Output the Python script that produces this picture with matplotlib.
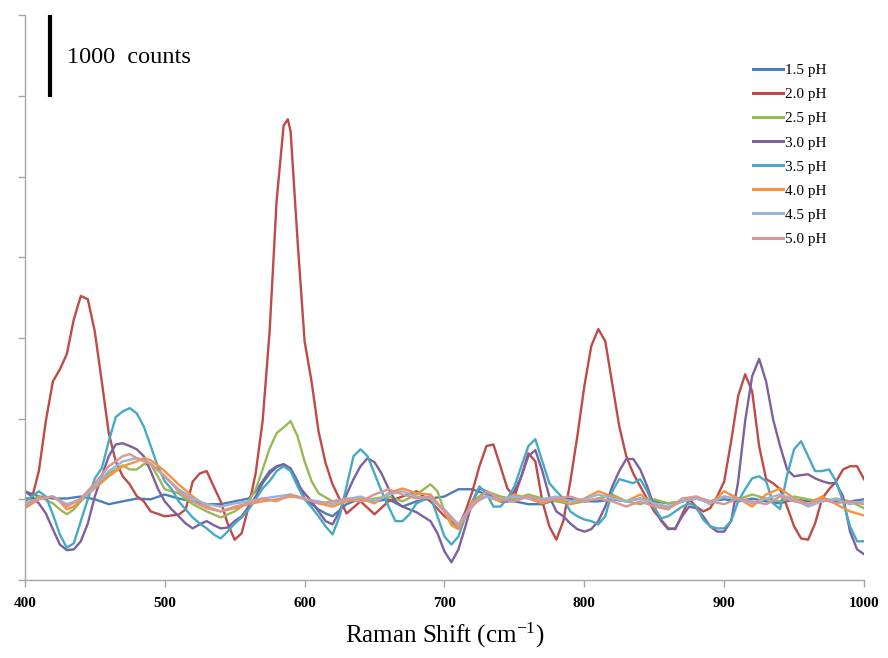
import matplotlib
matplotlib.use('Agg')
from matplotlib import pyplot as plt

# Raman spectra, counts relative to baseline
x_15 = [400, 410, 420, 430, 440, 450, 460, 470, 480, 490, 500, 510, 520, 530, 540, 550, 560,
        565, 570, 575, 580, 585, 590, 595, 600, 605, 610, 615, 620, 630, 640, 650, 660, 670,
        680, 690, 700, 710, 720, 730, 740, 750, 760, 770, 780, 790, 800, 810, 820, 830, 840,
        850, 860, 870, 880, 890, 900, 910, 920, 930, 940, 950, 960, 970, 980, 990, 1000]
y_15 = [100, 35, 10, 10, 35, 0, -60, -25, 10, 0, 60, 10, -25, -60, -60, -25, 10,
        100, 225, 350, 410, 435, 385, 225, 10, -60, -125, -175, -210, -60, 10, -25, 0, -90,
        -25, 10, 35, 125, 125, 60, -25, -25, -60, -60, 0, 10, -25, -25, 0, -25, 10,
        -25, -50, -25, 10, -25, 0, -25, 10, -25, -50, 0, -25, 10, -25, -25, 0]

x_20 = [400, 405, 410, 415, 420, 425, 430, 435, 440, 445, 450, 455, 460, 465, 470, 475, 480,
        485, 490, 500, 510, 515, 520, 525, 530, 535, 540, 545, 550, 555, 560, 565, 570, 575,
        580, 585, 588, 590, 595, 600, 605, 610, 615, 620, 630, 640, 650, 660, 670, 680, 690,
        700, 710, 715, 720, 725, 730, 735, 740, 745, 750, 755, 760, 765, 770, 775, 780, 785,
        790, 795, 800, 805, 810, 815, 820, 825, 830, 835, 840, 850, 860, 865, 870, 875, 880,
        885, 890, 895, 900, 905, 910, 915, 920, 925, 930, 935, 940, 945, 950, 955, 960, 965,
        970, 975, 980, 985, 990, 995, 1000]
y_20 = [10, 10, 350, 970, 1460, 1610, 1800, 2230, 2520, 2480, 2080, 1460, 820, 470, 285, 185, 40,
        -25, -150, -210, -190, -125, 220, 320, 350, 160, -25, -300, -500, -420, -90, 320, 970, 2080,
        3700, 4630, 4710, 4560, 3200, 1960, 1460, 840, 450, 185, -175, -25, -185, -25, 35, 100, -25,
        -210, -335, -150, 100, 410, 660, 680, 410, 135, 35, 285, 570, 470, -25, -335, -500, -270,
        220, 780, 1400, 1900, 2110, 1960, 1430, 905, 535, 320, 160, -150, -360, -370, -185, 0, -90,
        -150, -110, 35, 220, 720, 1280, 1550, 1340, 660, 250, 200, 125, -90, -335, -485, -500, -300,
        10, 125, 220, 370, 410, 410, 250]

x_25 = [400, 410, 420, 425, 430, 435, 440, 450, 460, 470, 475, 480, 485, 490, 495, 500, 510,
        520, 530, 540, 550, 560, 565, 570, 575, 580, 585, 590, 595, 600, 605, 610, 620, 630,
        640, 650, 660, 670, 680, 690, 695, 700, 705, 710, 715, 720, 730, 740, 750, 760, 770,
        780, 790, 800, 810, 820, 830, 840, 850, 860, 870, 880, 890, 900, 910, 920, 930, 940,
        950, 960, 970, 980, 990, 1000]
y_25 = [-60, 35, -50, -125, -185, -125, -25, 160, 320, 420, 370, 370, 435, 435, 285, 125, 75,
        -60, -150, -225, -150, -25, 125, 370, 630, 820, 890, 970, 780, 470, 225, 75, -25, 0,
        -25, 10, 35, -25, 60, 185, 100, -150, -300, -360, -210, -25, 100, 35, 0, 60, 10,
        -25, -60, -25, 10, 60, -25, -60, 0, -50, -25, 10, -25, 35, 0, 60, 10, -25,
        35, 0, -25, 10, -25, -110]

x_30 = [400, 405, 410, 415, 420, 425, 430, 435, 440, 445, 450, 455, 460, 465, 470, 475, 480,
        485, 490, 495, 500, 505, 510, 515, 520, 525, 530, 535, 540, 545, 550, 555, 560, 565,
        570, 575, 580, 585, 590, 595, 600, 605, 610, 615, 620, 625, 630, 635, 640, 645, 650,
        655, 660, 665, 670, 680, 690, 695, 700, 705, 710, 715, 720, 725, 730, 740, 745, 750,
        755, 760, 765, 770, 775, 780, 785, 790, 795, 800, 805, 810, 815, 820, 825, 830, 835,
        840, 845, 850, 855, 860, 865, 870, 875, 880, 885, 890, 895, 900, 905, 910, 915, 920,
        925, 930, 935, 940, 945, 950, 955, 960, 965, 970, 975, 980, 985, 990, 995, 1000]
y_30 = [100, 35, -50, -175, -370, -560, -630, -620, -520, -300, 35, 285, 535, 680, 695, 660, 620,
        535, 350, 135, -25, -125, -210, -300, -360, -310, -270, -320, -360, -350, -270, -210, -90, 35,
        200, 320, 400, 435, 370, 185, 75, -25, -150, -270, -310, -150, 60, 250, 410, 510, 460,
        320, 135, -25, -90, -160, -270, -420, -645, -780, -620, -335, -25, 135, 100, -25, -25, 100,
        285, 535, 610, 350, 35, -150, -210, -300, -370, -400, -370, -270, -90, 160, 350, 500, 500,
        370, 160, -90, -270, -370, -360, -210, -90, -110, -210, -335, -400, -400, -270, 220, 970, 1525,
        1740, 1460, 990, 660, 370, 285, 300, 310, 260, 225, 200, 200, 35, -400, -620, -680]

x_35 = [400, 405, 410, 415, 420, 425, 430, 435, 440, 445, 450, 455, 460, 465, 470, 475, 480,
        485, 490, 495, 500, 505, 510, 515, 520, 525, 530, 535, 540, 545, 550, 555, 560, 565,
        570, 575, 580, 585, 590, 595, 600, 605, 610, 615, 620, 625, 630, 635, 640, 645, 650,
        655, 660, 665, 670, 675, 680, 690, 695, 700, 705, 710, 715, 720, 725, 730, 735, 740,
        745, 750, 755, 760, 765, 770, 775, 780, 785, 790, 795, 800, 805, 810, 815, 820, 825,
        830, 835, 840, 845, 850, 855, 860, 865, 870, 875, 880, 885, 890, 895, 900, 905, 910,
        915, 920, 925, 930, 935, 940, 945, 950, 955, 960, 965, 970, 975, 980, 985, 990, 995,
        1000]
y_35 = [-25, 35, 100, 35, -185, -435, -600, -545, -270, 0, 260, 385, 720, 1020, 1090, 1130, 1065,
        905, 660, 410, 225, 125, -25, -125, -225, -300, -360, -435, -485, -400, -300, -225, -125, 0,
        135, 225, 350, 410, 350, 160, 0, -100, -210, -335, -435, -210, 160, 535, 620, 535, 320,
        100, -90, -270, -270, -185, -50, 35, -210, -460, -560, -460, -210, -25, 160, 75, -90, -90,
        10, 160, 410, 660, 745, 470, 200, 100, 10, -150, -210, -250, -270, -310, -210, 100, 250,
        225, 200, 250, 100, -110, -235, -210, -150, -90, -50, -90, -250, -335, -360, -360, -270, -25,
        125, 260, 285, 225, -50, -120, 300, 620, 720, 535, 350, 350, 370, 225, -25, -335, -520,
        -520]

x_40 = [400, 410, 420, 425, 430, 435, 440, 450, 460, 470, 480, 485, 490, 500, 510, 520, 530,
        540, 550, 560, 570, 580, 590, 600, 610, 620, 630, 640, 650, 660, 670, 680, 690, 700,
        705, 710, 715, 720, 730, 740, 750, 760, 770, 780, 790, 800, 810, 820, 830, 840, 850,
        860, 870, 880, 890, 900, 910, 920, 930, 940, 950, 960, 970, 980, 990, 1000]
y_40 = [-110, 0, 35, -25, -125, -90, 0, 135, 285, 410, 470, 510, 485, 350, 185, 35, -90,
        -150, -110, -60, -25, 0, 35, 10, -50, -90, -25, 10, -50, 75, 135, 75, 60, -150,
        -320, -370, -210, -25, 35, -25, 60, 10, -50, 10, -60, 10, 100, 35, -25, 60, -60,
        -110, -25, 35, -60, 100, 10, -90, 60, 135, 10, -60, 35, -60, -150, -200]

x_45 = [400, 410, 420, 430, 440, 450, 460, 470, 480, 490, 500, 510, 520, 530, 540, 550, 560,
        570, 580, 590, 600, 610, 620, 630, 640, 650, 660, 670, 680, 690, 700, 710, 720, 730,
        740, 750, 760, 770, 780, 790, 800, 810, 820, 830, 840, 850, 860, 870, 880, 890, 900,
        910, 920, 930, 940, 950, 960, 970, 980, 990, 1000]
y_45 = [-60, 10, 35, -60, 0, 160, 350, 470, 510, 445, 285, 125, 10, -60, -90, -50, -25,
        10, 35, 60, 0, -25, -60, 0, 35, -25, 60, 100, 35, 10, -125, -310, -60, 35,
        0, 35, 10, 0, 35, -25, 0, 60, 10, -25, 10, -50, -90, -25, 10, -50, 35,
        0, -50, 10, 60, 0, -90, -25, 0, -60, -25]

x_50 = [400, 410, 420, 430, 440, 450, 460, 470, 475, 480, 490, 500, 510, 520, 530, 540, 550,
        560, 570, 580, 590, 600, 610, 620, 630, 640, 650, 660, 670, 680, 690, 700, 710, 720,
        730, 740, 750, 760, 770, 780, 790, 800, 810, 820, 830, 840, 850, 860, 870, 880, 890,
        900, 910, 920, 930, 940, 950, 960, 970, 980, 990, 1000]
y_50 = [-90, 10, 35, -90, 10, 200, 410, 535, 560, 510, 435, 285, 100, -25, -110, -150, -90,
        -50, 10, -25, 60, 10, -50, -25, 10, -25, 60, 125, 60, 10, 35, -150, -335, -90,
        100, 0, -25, 35, -25, 10, 35, -25, 10, -25, -90, -25, -90, -125, 10, 35, -25,
        -60, 10, -25, -60, 35, -25, -60, 0, -50, -25, -60]

series = [
    ('1.5 pH', x_15, y_15, '#4A7EBB'),
    ('2.0 pH', x_20, y_20, '#BE4B48'),
    ('2.5 pH', x_25, y_25, '#98B954'),
    ('3.0 pH', x_30, y_30, '#7D60A0'),
    ('3.5 pH', x_35, y_35, '#46AAC5'),
    ('4.0 pH', x_40, y_40, '#F69240'),
    ('4.5 pH', x_45, y_45, '#98B4D8'),
    ('5.0 pH', x_50, y_50, '#DA9694'),
]

serif = 'Liberation Serif'
plt.rcParams['mathtext.fontset'] = 'custom'
plt.rcParams['mathtext.rm'] = serif
plt.rcParams['mathtext.it'] = serif

fig = plt.figure(figsize=(8.88, 6.58), dpi=100)
ax = fig.add_axes([0.028, 0.1185, 0.945, 0.8585])

for label, xs, ys, col in series:
    ax.plot(xs, ys, color=col, lw=1.7, label=label, solid_joinstyle='round')

ax.set_xlim(400, 1000)
ax.set_ylim(-1000, 6000)
ax.set_xticks(range(400, 1001, 100))
ax.set_yticks(range(-1000, 6001, 1000))
ax.set_yticklabels([])
ax.tick_params(axis='both', direction='out', length=5, color='#A6A6A6', width=1)
ax.tick_params(axis='x', labelsize=11, pad=7)
for t in ax.get_xticklabels():
    t.set_fontfamily(serif)
    t.set_fontweight('bold')

for s in ['top', 'right']:
    ax.spines[s].set_visible(False)
for s in ['left', 'bottom']:
    ax.spines[s].set_color('#A6A6A6')
    ax.spines[s].set_linewidth(1)

ax.set_xlabel('Raman Shift (cm$^{\\mathrm{-1}}$)', fontfamily=serif, fontsize=18, labelpad=8)

# scale bar
ax.plot([418, 418], [4980, 6000], color='black', lw=3, solid_capstyle='butt')
ax.text(430, 5480, '1000  counts', fontfamily=serif, fontsize=17.5, va='center', ha='left')

leg = ax.legend(loc='upper left', bbox_to_anchor=(0.86, 0.925), frameon=False,
                prop={'family': serif, 'size': 11}, handlelength=2.0,
                handletextpad=0.15, labelspacing=0.68, borderaxespad=0)
for h in leg.get_lines():
    h.set_linewidth(2.2)

fig.savefig('out.png', dpi=100)
